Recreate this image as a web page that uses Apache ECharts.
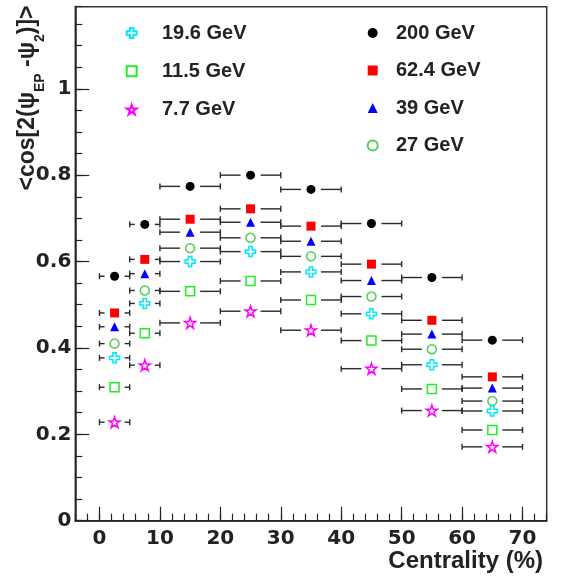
<!DOCTYPE html>
<html>
<head>
<meta charset="utf-8">
<script src="https://cdn.jsdelivr.net/npm/echarts@6/dist/echarts.min.js"></script>
<style>html,body{margin:0;padding:0;background:#fff;}#c{width:564px;height:578px;}</style>
</head>
<body>
<div id="c"></div>
<script>
const centrality = [2.5, 7.5, 15, 25, 35, 45, 55, 65];
const binLow = [0, 5, 10, 20, 30, 40, 50, 60];
const binHigh = [5, 10, 20, 30, 40, 50, 60, 70];
const r200 = [0.566, 0.686, 0.774, 0.800, 0.767, 0.688, 0.563, 0.418];
const r62 = [0.481, 0.605, 0.698, 0.722, 0.682, 0.594, 0.464, 0.333];
const r39 = [0.449, 0.572, 0.668, 0.691, 0.647, 0.556, 0.432, 0.307];
const r27 = [0.410, 0.533, 0.631, 0.655, 0.612, 0.519, 0.397, 0.277];
const r19 = [0.377, 0.503, 0.600, 0.623, 0.576, 0.479, 0.361, 0.254];
const r11 = [0.309, 0.434, 0.531, 0.555, 0.511, 0.417, 0.305, 0.210];
const r7 = [0.228, 0.360, 0.458, 0.485, 0.441, 0.352, 0.255, 0.171];
const xMajorTicks = [0, 10, 20, 30, 40, 50, 60, 70];
const yMajorTicks = [0, 0.2, 0.4, 0.6, 0.8, 1];
const legendLeft = ['19.6 GeV', '11.5 GeV', '7.7 GeV'];
const legendRight = ['200 GeV', '62.4 GeV', '39 GeV', '27 GeV'];

const CROSS = 'path://M-1,-3L1,-3L1,-1L3,-1L3,1L1,1L1,3L-1,3L-1,1L-3,1L-3,-1L-1,-1Z';
const STAR = 'path://M0,-100L22.45,-30.9L95.1,-30.9L36.3,11.8L58.8,80.9L0,38.2L-58.8,80.9L-36.3,11.8L-95.1,-30.9L-22.45,-30.9Z';

const seriesDefs = [
  {name: '200 GeV', vals: r200, symbol: 'circle', size: 9, fill: '#000000', stroke: '#000000'},
  {name: '62.4 GeV', vals: r62, symbol: 'rect', size: 9, fill: '#ff0000', stroke: '#ff0000'},
  {name: '39 GeV', vals: r39, symbol: 'triangle', size: 9, fill: '#0000ff', stroke: '#0000ff'},
  {name: '27 GeV', vals: r27, symbol: 'circle', size: 9, fill: '#ffffff', stroke: '#55cc55', hollow: true},
  {name: '19.6 GeV', vals: r19, symbol: CROSS, size: 10, fill: '#ffffff', stroke: '#00e8ff', hollow: true},
  {name: '11.5 GeV', vals: r11, symbol: 'rect', size: 9, fill: '#ffffff', stroke: '#22ee22', hollow: true},
  {name: '7.7 GeV', vals: r7, symbol: STAR, size: 11, fill: '#ffffff', stroke: '#ff00ff', hollow: true}
];

function errRender(params, api) {
  const x = api.value(0), y = api.value(1), lo = api.value(2), hi = api.value(3);
  const c = api.coord([x, y]);
  const pl = api.coord([lo, y]);
  const ph = api.coord([hi, y]);
  const gap = 10, cap = 3;
  const st = {stroke: '#2a2a2a', lineWidth: 1.4};
  const ch = [];
  if (c[0] - gap > pl[0]) ch.push({type: 'line', shape: {x1: pl[0], y1: c[1], x2: c[0] - gap, y2: c[1]}, style: st});
  if (ph[0] > c[0] + gap) ch.push({type: 'line', shape: {x1: c[0] + gap, y1: c[1], x2: ph[0], y2: c[1]}, style: st});
  ch.push({type: 'line', shape: {x1: pl[0], y1: c[1] - cap, x2: pl[0], y2: c[1] + cap}, style: st});
  ch.push({type: 'line', shape: {x1: ph[0], y1: c[1] - cap, x2: ph[0], y2: c[1] + cap}, style: st});
  return {type: 'group', children: ch};
}

const series = [];
seriesDefs.forEach(function (d) {
  series.push({
    type: 'custom', name: 'err ' + d.name, xAxisIndex: 0, yAxisIndex: 0,
    renderItem: errRender, encode: {x: 0, y: 1}, silent: true, z: 2,
    data: centrality.map(function (c, i) { return [c, d.vals[i], binLow[i], binHigh[i]]; })
  });
});
seriesDefs.forEach(function (d) {
  series.push({
    type: 'scatter', name: d.name, xAxisIndex: 0, yAxisIndex: 0,
    symbol: d.symbol, symbolSize: d.size, z: 5,
    itemStyle: {color: d.fill, borderColor: d.stroke, borderWidth: d.hollow ? 1.5 : 0, opacity: 1},
    data: centrality.map(function (c, i) { return [c, d.vals[i]]; })
  });
});

const tickFont = {fontFamily: 'DejaVu Sans', fontWeight: 'bold', fontSize: 20, color: '#222'};
function legendText(padLeft) {
  return {fontFamily: 'Liberation Sans', fontWeight: 'bold', fontSize: 20, color: '#222', lineHeight: 20, padding: [0, 0, 0, padLeft]};
}

const chart = echarts.init(document.getElementById('c'), null, {renderer: 'canvas'});
chart.setOption({
  animation: false,
  backgroundColor: '#fff',
  grid: {left: 75.3, right: 17.3, top: 6.7, bottom: 57.3, show: true, borderColor: '#333', borderWidth: 1.5, backgroundColor: 'transparent'},
  legend: [
    {data: legendLeft, orient: 'vertical', left: 125.7, top: 23, padding: 0, itemWidth: 10, itemHeight: 10, itemGap: 18.3, selectedMode: false, textStyle: legendText(20.3)},
    {data: legendRight, orient: 'vertical', left: 366.7, top: 23, padding: 0, itemWidth: 10, itemHeight: 10, itemGap: 17.5, selectedMode: false, textStyle: legendText(13.3)}
  ],
  xAxis: [
    {type: 'value', min: -4, max: 74, interval: 2, position: 'bottom',
     axisLine: {show: true, onZero: false, lineStyle: {color: '#222', width: 1.5}},
     axisTick: {show: true, inside: true, length: 7, lineStyle: {color: '#222', width: 1.2}},
     axisLabel: {show: false}, splitLine: {show: false}},
    {type: 'value', min: -4, max: 74, position: 'bottom', offset: 0,
     axisLine: {show: false, onZero: false},
     axisTick: {show: true, inside: true, length: 14, customValues: xMajorTicks, lineStyle: {color: '#222', width: 1.2}},
     axisLabel: Object.assign({show: true, margin: 8, customValues: xMajorTicks}, tickFont),
     splitLine: {show: false}}
  ],
  yAxis: [
    {type: 'value', min: 0, max: 1.19, interval: 0.05, position: 'left',
     axisLine: {show: true, onZero: false, lineStyle: {color: '#222', width: 1.5}},
     axisTick: {show: true, inside: true, length: 7, lineStyle: {color: '#222', width: 1.2}},
     axisLabel: {show: false}, splitLine: {show: false}},
    {type: 'value', min: 0, max: 1.19, position: 'left', offset: 0,
     axisLine: {show: false, onZero: false},
     axisTick: {show: true, inside: true, length: 14, customValues: yMajorTicks, lineStyle: {color: '#222', width: 1.2}},
     axisLabel: Object.assign({show: true, margin: 4, customValues: yMajorTicks}, tickFont),
     splitLine: {show: false}}
  ],
  graphic: [
    {type: 'text', x: 543, y: 561, z: 10,
     style: {text: 'Centrality (%)', fontFamily: 'Liberation Sans', fontWeight: 'bold', fontSize: 24, fill: '#222', textAlign: 'right', textVerticalAlign: 'middle'}},
    {type: 'text', x: 29, y: 98, rotation: Math.PI / 2, z: 10,
     style: {
       text: '{m|<cos[2(\u03c8}{s|EP}{m| -\u03c8}{s|2}{m|)]>}',
       textAlign: 'center', textVerticalAlign: 'middle', fill: '#222',
       rich: {
         m: {fontFamily: 'Liberation Sans', fontWeight: 'bold', fontSize: 23, lineHeight: 25, verticalAlign: 'top', fill: '#222'},
         s: {fontFamily: 'Liberation Sans', fontWeight: 'bold', fontSize: 14, lineHeight: 15, verticalAlign: 'top', padding: [17, 0, 0, 0], fill: '#222'}
       }
     }}
  ],
  series: series
});
</script>
</body>
</html>
